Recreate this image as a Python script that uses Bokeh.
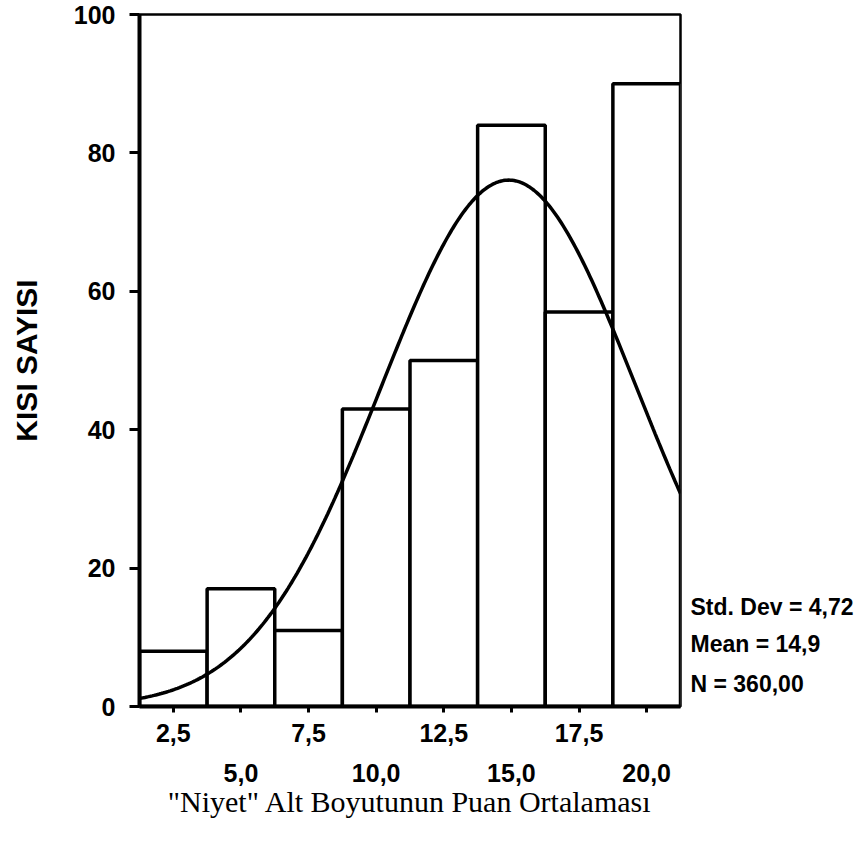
import numpy as np
from bokeh.plotting import figure
from bokeh.models import LinearAxis, FixedTicker, Range1d
from bokeh.embed import file_html
from bokeh.resources import INLINE

# ---- data ----
bin_centers = [2.5, 5.0, 7.5, 10.0, 12.5, 15.0, 17.5, 20.0]
counts = [8, 17, 11, 43, 50, 84, 57, 90]
upper_labels = {2.5: "2,5", 7.5: "7,5", 12.5: "12,5", 17.5: "17,5"}
lower_labels = {5.0: "5,0", 10.0: "10,0", 15.0: "15,0", 20.0: "20,0"}
y_ticks = [0, 20, 40, 60, 80, 100]
std_dev = 4.72
mean = 14.9
n_total = 360.0
stat_texts = ["Std. Dev = 4,72", "Mean = 14,9", "N = 360,00"]

bin_w = bin_centers[1] - bin_centers[0]
x_lo = bin_centers[0] - bin_w / 2
x_hi = bin_centers[-1] + bin_w / 2

p = figure(width=861, height=856, output_backend="svg", toolbar_location=None,
           x_range=Range1d(x_lo, x_hi), y_range=Range1d(0, 100),
           x_axis_type=None, y_axis_type=None,
           min_border_left=139, min_border_right=181,
           min_border_top=14, min_border_bottom=150)
p.background_fill_color = "white"
p.border_fill_color = "white"
p.outline_line_color = "black"
p.outline_line_width = 2.5
p.xgrid.visible = False
p.ygrid.visible = False

left = [c - bin_w / 2 for c in bin_centers]
right = [c + bin_w / 2 for c in bin_centers]
p.quad(left=left, right=right, bottom=0, top=counts,
       fill_color="white", line_color="black", line_width=3.5)

# fitted normal curve defined by the chart's statistics
xs = np.linspace(x_lo, x_hi, 300)
ys = n_total * bin_w / (std_dev * np.sqrt(2 * np.pi)) * np.exp(-0.5 * ((xs - mean) / std_dev) ** 2)
p.line(xs, ys, line_color="black", line_width=3.5)

FONT = "Liberation Sans"
TICK_SIZE = "25px"

# y axis
yax = LinearAxis(ticker=FixedTicker(ticks=y_ticks, minor_ticks=[]))
yax.axis_line_width = 4
yax.major_tick_line_width = 3
yax.major_tick_in = 0
yax.major_tick_out = 10
yax.major_label_standoff = 14
yax.major_label_text_font = FONT
yax.major_label_text_font_style = "bold"
yax.major_label_text_font_size = TICK_SIZE
yax.major_label_text_color = "black"
yax.axis_label = "KISI SAYISI"
yax.axis_label_text_font = FONT
yax.axis_label_text_font_style = "bold"
yax.axis_label_text_font_size = "30px"
yax.axis_label_text_color = "black"
yax.axis_label_standoff = 28
p.add_layout(yax, "left")

# x axis, upper row of labels
overr1 = {c: upper_labels.get(c, "") for c in bin_centers}
xax = LinearAxis(ticker=FixedTicker(ticks=bin_centers, minor_ticks=[]),
                 major_label_overrides=overr1)
xax.axis_line_width = 4
xax.major_tick_line_width = 3
xax.major_tick_in = 0
xax.major_tick_out = 6
xax.major_label_standoff = 11
xax.major_label_text_font = FONT
xax.major_label_text_font_style = "bold"
xax.major_label_text_font_size = TICK_SIZE
xax.major_label_text_color = "black"
p.add_layout(xax, "below")

# x axis, lower row of labels + title
overr2 = {c: lower_labels.get(c, "") for c in bin_centers}
xax2 = LinearAxis(ticker=FixedTicker(ticks=bin_centers, minor_ticks=[]),
                  major_label_overrides=overr2)
xax2.axis_line_color = None
xax2.major_tick_line_color = None
xax2.major_tick_in = 0
xax2.major_tick_out = 0
xax2.major_label_standoff = 19
xax2.major_label_text_font = FONT
xax2.major_label_text_font_style = "bold"
xax2.major_label_text_font_size = TICK_SIZE
xax2.major_label_text_color = "black"
xax2.axis_label = '"Niyet" Alt Boyutunun Puan Ortalaması'
xax2.axis_label_text_font = "Liberation Serif"
xax2.axis_label_text_font_style = "normal"
xax2.axis_label_text_font_size = "30px"
xax2.axis_label_text_color = "black"
xax2.axis_label_standoff = 0
p.add_layout(xax2, "below")

# statistics on the right
stat_pos = [14.45, 8.96, 3.32]
rax = LinearAxis(ticker=FixedTicker(ticks=stat_pos, minor_ticks=[]),
                 major_label_overrides={v: t for v, t in zip(stat_pos, stat_texts)})
rax.axis_line_color = None
rax.major_tick_line_color = None
rax.major_tick_in = 0
rax.major_tick_out = 0
rax.major_label_standoff = 10
rax.major_label_text_font = FONT
rax.major_label_text_font_style = "bold"
rax.major_label_text_font_size = "23px"
rax.major_label_text_color = "black"
p.add_layout(rax, "right")

open("out.html", "w").write(file_html(p, INLINE))
